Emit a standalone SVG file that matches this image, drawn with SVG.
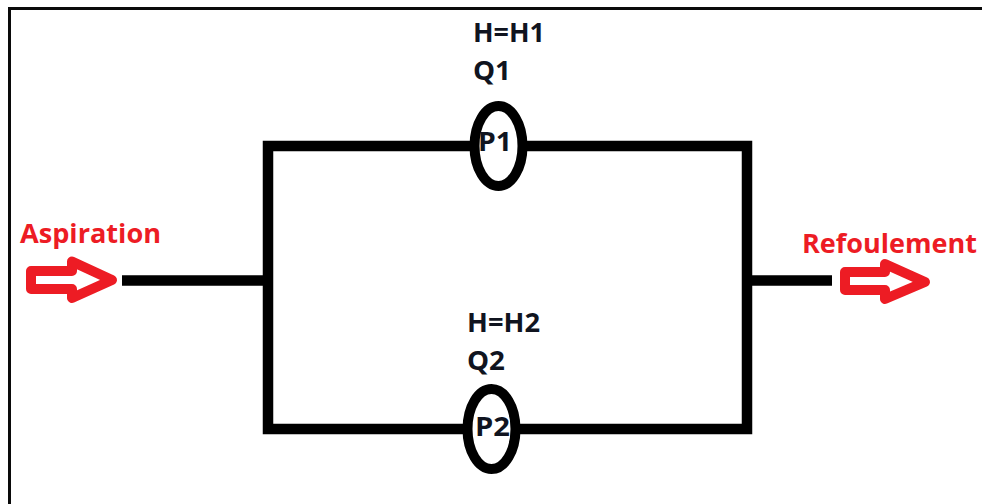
<svg xmlns="http://www.w3.org/2000/svg" width="982" height="504" viewBox="0 0 982 504">
<style>
.w{fill:none;stroke:#000;stroke-width:10.5}
.b{font-family:"Open Sans","Liberation Sans",sans-serif;font-weight:700;font-size:26px;fill:#10141f}
.r{font-family:"Open Sans","Liberation Sans",sans-serif;font-weight:700;font-size:27px;fill:#ed1c24}
.a{fill:#fff;stroke:#ed1c24;stroke-width:10;stroke-linejoin:round}
.p{fill:#fff;stroke:#000;stroke-width:10}
</style>
<rect width="982" height="504" fill="#fff"/>
<path d="M9.5 504V8.5H982" fill="none" stroke="#0a0a0a" stroke-width="3"/>
<g id="connectors">
<path class="w" d="M470 146H268V429H465M525 146H747V429H520"/>
<path class="w" d="M122 280.500H268M747 280.500H832"/>
</g>
<g id="P1"><ellipse class="p" cx="498.500" cy="146" rx="24" ry="40"/><text class="b" x="478" y="151" textLength="34" lengthAdjust="spacingAndGlyphs">P1</text></g>
<g id="P2"><ellipse class="p" cx="491.500" cy="429" rx="24" ry="40"/><text class="b" x="475" y="436" textLength="35" lengthAdjust="spacingAndGlyphs">P2</text></g>
<g id="label-p1"><text class="b" x="473" y="42" textLength="72" lengthAdjust="spacingAndGlyphs">H=H1</text><text class="b" x="473" y="80" textLength="38" lengthAdjust="spacingAndGlyphs">Q1</text></g>
<g id="label-p2"><text class="b" x="467" y="332" textLength="73" lengthAdjust="spacingAndGlyphs">H=H2</text><text class="b" x="467" y="370" textLength="38" lengthAdjust="spacingAndGlyphs">Q2</text></g>
<g id="aspiration"><text class="r" x="20" y="243" textLength="141" lengthAdjust="spacingAndGlyphs">Aspiration</text><path class="a" d="M31 271H72V261.500L112 280L72 298V289H31Z"/></g>
<g id="refoulement"><text class="r" x="802" y="253" textLength="175" lengthAdjust="spacingAndGlyphs">Refoulement</text><path class="a" d="M845 272H885V264L925 282L885 299V290H845Z"/></g>
</svg>
